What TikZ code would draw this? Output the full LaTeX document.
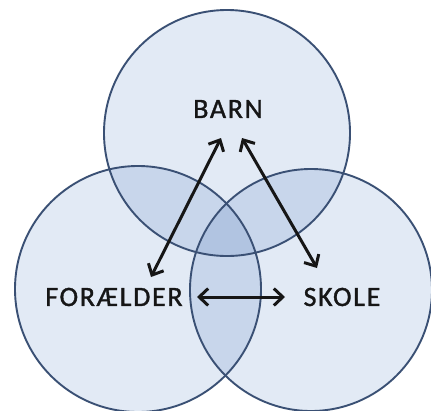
\documentclass[tikz,border=0pt]{standalone}
\usepackage{fontspec}
\setmainfont{Carlito}
\newfontfamily\lblfont[LetterSpace=6,FakeBold=1.2]{Carlito}
\usetikzlibrary{arrows.meta}
\definecolor{vin}{RGB}{226,234,245}
\definecolor{vedge}{RGB}{140,168,214}
\definecolor{vline}{RGB}{58,80,116}
\definecolor{txt}{RGB}{22,22,22}
\pgfdeclareradialshading{venn}{\pgfpoint{0bp}{0bp}}{color(0bp)=(vin); color(42bp)=(vin); color(49bp)=(vedge); color(50bp)=(vedge)}
\tikzset{
  vfill/.style={shading=venn},
  vring/.style={draw=vline, line width=1.9pt},
  lbl/.style={font=\lblfont\fontsize{28}{30}\selectfont, text=txt, inner sep=0pt},
  tipb/.tip={Straight Barb[length=9pt,width=17pt,line width=3pt]},
  arr/.style={tipb-tipb, line width=3pt, draw=txt}
}
\begin{document}
\begin{tikzpicture}[x=1pt,y=-1pt]
\useasboundingbox (0,0) rectangle (431,410);
\fill[white] (0,0) rectangle (431,410);
\begin{scope}[blend mode=multiply]
  \path[vfill] (227,133) circle[radius=123pt];
  \path[vfill] (138,289) circle[radius=123pt];
  \path[vfill] (311,290) circle[radius=121pt];
\end{scope}
\path[vring] (227,133) circle[radius=123pt];
\path[vring] (138,289) circle[radius=123pt];
\path[vring] (311,290) circle[radius=121pt];
\node[lbl] (barn) at (228,109) {BARN};
\node[lbl] (foraelder) at (114,297) {FORÆLDER};
\node[lbl] (skole) at (342,297) {SKOLE};
\draw[arr] ([shift={(-7,29)}]barn.center) -- ([shift={(37,-20)}]foraelder.center);
\draw[arr] ([shift={(14,29)}]barn.center) -- ([shift={(-25,-29)}]skole.center);
\draw[arr] ([shift={(83,0)}]foraelder.center) -- ([shift={(-57,0)}]skole.center);
\end{tikzpicture}
\end{document}
